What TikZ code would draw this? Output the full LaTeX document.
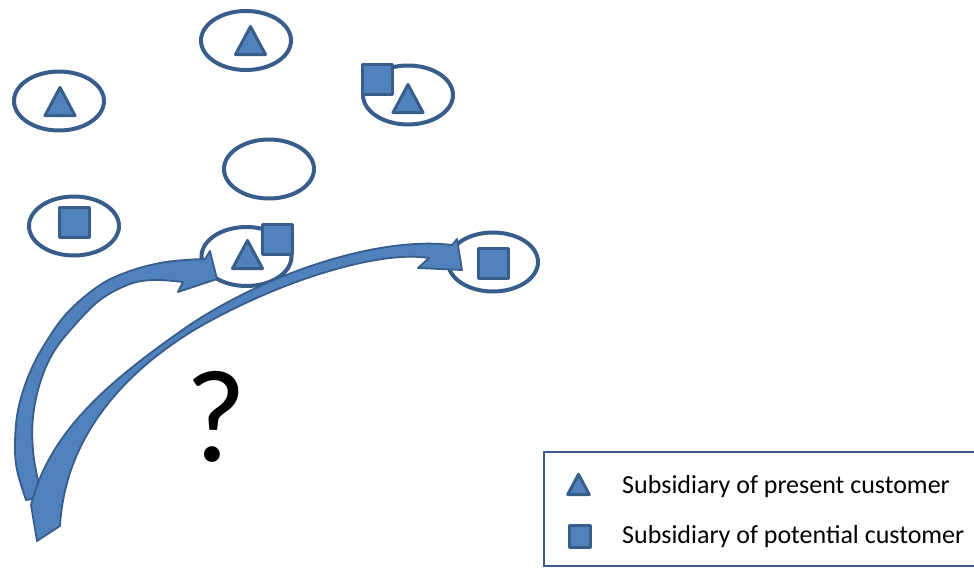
\documentclass[tikz,border=0pt]{standalone}
\usepackage{fontspec}
\setmainfont{Carlito}
\usetikzlibrary{shapes.geometric}
\definecolor{ofill}{HTML}{4F81BD}
\definecolor{oline}{HTML}{385D8A}
\begin{document}
\begin{tikzpicture}[x=1pt,y=-1pt,
  oval/.style={ellipse,draw=oline,line width=4pt,fill=white,minimum width=90pt,minimum height=59pt,inner sep=0pt},
  shp/.style={fill=ofill,draw=oline,line width=3pt,line join=round},
  tri/.pic={\draw[shp] (-15,0)--(15,0)--(0,-28)--cycle;},
  sq/.pic={\draw[shp] (-15,-15) rectangle (15,15);},
  blk/.style={fill=ofill,draw=oline,line width=1.8pt,line join=round},
  legtext/.style={anchor=base west,font=\fontsize{26}{30}\selectfont,inner sep=0pt}]
\useasboundingbox (0,0) rectangle (974,568);
% ellipses
\node[oval] (etop) at (246,40.5) {};
\node[oval] (eleft) at (59,101) {};
\node[oval] (eright) at (408,95) {};
\node[oval] (emid) at (269,169) {};
\node[oval] (elb) at (74,226) {};
\node[oval] (ebm) at (246.5,256.5) {};
\node[oval] (erb) at (493,262) {};
% contents
\pic at (250.5,54.5) {tri};
\pic at (60,115.5) {tri};
\pic at (377.5,79.5) {sq};
\pic at (408,112.5) {tri};
\pic at (74.5,222.5) {sq};
\pic at (247.5,268.5) {tri};
\pic at (277.5,239.5) {sq};
\pic at (493,263.5) {sq};
% arrow 1
\coordinate (a1tail) at (26,500);
\coordinate (a1end) at (205,259);
\draw[blk] (a1tail) -- plot[smooth,tension=0.6] coordinates {(26,500) (17,470) (15,443) (18,410) (28,377) (43,347) (67,313) (100,285) (130,271) (160,263) (185,260) (205,259)}
  -- (210,251) -- (217,279) -- (178,292) -- (183,282)
  -- plot[smooth,tension=0.6] coordinates {(183,282) (155,280) (130,284) (100,300) (73,327) (53,353) (40,383) (33,417) (33,450) (38,480) (44,497)} -- cycle;
% arrow 2
\coordinate (a2tail) at (37,541);
\coordinate (a2end) at (452,245);
\draw[blk] (a2tail) -- (31,505)
  .. controls (50,430) and (110,380) .. (191,324)
  .. controls (270,272) and (380,236) .. (a2end)
  -- (457,239) -- (462,270) -- (418,268) -- (429,258)
  .. controls (380,250) and (280,280) .. (195,329.5)
  .. controls (120,375) and (65,440) .. (60,526) -- cycle;
% question mark
\node[font=\fontsize{132}{150}\selectfont,anchor=base,inner sep=0pt] (q) at (216,461) {?};
% legend
\draw[oline,line width=2pt] (544,452) rectangle (990,566);
\pic[scale=0.72] at (578.5,494.5) {tri};
\pic[scale=0.72] at (580,536.5) {sq};
\node[legtext] (l1) at (622,493) {Subsidiary of present customer};
\node[legtext] (l2) at (622,543) {Subsidiary of potential customer};
\end{tikzpicture}
\end{document}
